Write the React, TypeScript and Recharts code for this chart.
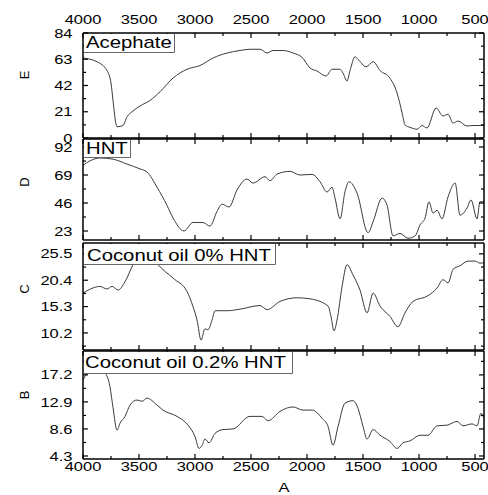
import React from 'react';
import { LineChart, Line, XAxis, YAxis } from 'recharts';

const W = 488;
const H = 495;
const LEFT = 83;
const RIGHT = 4;
const FONT = '"Liberation Sans", Arial, sans-serif';
const STRETCH = 1.27; // the source picture is stretched sideways
const LINE_COLOR = '#3a3a3a';

const xDomain = [420, 4000];
const xTicks = [4000, 3750, 3500, 3250, 3000, 2750, 2500, 2250, 2000, 1750, 1500, 1250, 1000, 750, 500];
const xLabels = [4000, 3500, 3000, 2500, 2000, 1500, 1000, 500];

// E - Acephate
const acephateX = [4000, 3875, 3786, 3750, 3732, 3705, 3696, 3643, 3607, 3562, 3491, 3402, 3312, 3196, 3071, 2955, 2839, 2714, 2598, 2509, 2420, 2357, 2304, 2214, 2125, 2045, 1973, 1911, 1830, 1777, 1705, 1679, 1643, 1616, 1571, 1545, 1473, 1410, 1348, 1259, 1196, 1151, 1125, 1080, 1018, 973, 929, 848, 786, 741, 696, 652, 571, 518, 420];
const acephateY = [64, 61, 54, 44, 30, 11, 9, 10, 17, 21, 25.6, 30, 37, 48, 55, 58, 64, 68, 70, 71, 71, 68, 70, 70, 68, 64.6, 56, 53.6, 49.6, 55, 55, 52, 45.6, 54, 65, 63, 57, 61, 54, 47.8, 36, 20, 10.4, 8.5, 7, 10, 8, 24, 17.6, 19, 12, 13.6, 9.6, 10, 10];

// D - HNT
const hntX = [4000, 3937, 3848, 3732, 3607, 3491, 3429, 3339, 3250, 3196, 3098, 3018, 2929, 2866, 2804, 2759, 2696, 2625, 2536, 2482, 2375, 2330, 2268, 2152, 2063, 1955, 1884, 1821, 1777, 1750, 1705, 1661, 1625, 1553, 1455, 1410, 1330, 1286, 1232, 1170, 1098, 1035, 991, 946, 911, 875, 839, 795, 741, 678, 634, 571, 536, 482, 456, 420];
const hntY = [77, 80.7, 83, 82, 78, 74, 71.5, 59, 44, 33.7, 23, 30, 30, 27, 39, 45, 42.7, 56.7, 65.7, 62.4, 67.6, 64.3, 69.8, 72, 69, 69.5, 63.5, 55, 59, 50, 33, 55.3, 63.5, 54, 21.6, 30.7, 50, 44.3, 19, 21, 17, 19, 28, 33.7, 47, 37.7, 40, 33, 51, 62.4, 36, 42, 48.5, 33, 47, 47];

// C - Coconut oil 0% HNT
const oil0X = [4000, 3911, 3848, 3786, 3741, 3687, 3625, 3554, 3450, 3330, 3196, 3071, 3018, 2982, 2946, 2911, 2884, 2848, 2821, 2714, 2598, 2420, 2357, 2241, 2089, 1973, 1812, 1786, 1759, 1732, 1687, 1643, 1589, 1527, 1464, 1410, 1348, 1259, 1188, 1125, 1054, 920, 839, 786, 741, 696, 634, 563, 500, 456, 420];
const oil0Y = [17.9, 18.9, 19.2, 18.7, 19.2, 18.5, 20.1, 23.4, 27, 23.4, 20.8, 18.2, 15.3, 12.7, 8.8, 11, 10.8, 12.7, 14.5, 14.5, 14.8, 15.5, 14.7, 16.3, 17, 16.8, 15.4, 13.4, 10.6, 12.7, 19.2, 23.4, 21.4, 18.5, 14.1, 17.9, 15.4, 13.4, 11.4, 14.1, 16.3, 17.4, 18.9, 20.5, 19.9, 22.5, 23.2, 24.1, 24.1, 23.7, 23.8];

// B - Coconut oil 0.2% HNT
const oil02X = [4000, 3964, 3900, 3804, 3759, 3732, 3696, 3670, 3625, 3580, 3518, 3473, 3429, 3339, 3286, 3161, 3062, 3000, 2964, 2937, 2911, 2875, 2821, 2750, 2661, 2509, 2402, 2348, 2241, 2125, 2036, 1955, 1866, 1812, 1768, 1723, 1661, 1589, 1545, 1500, 1464, 1410, 1348, 1259, 1196, 1143, 1080, 991, 920, 839, 750, 661, 607, 527, 482, 447, 420];
const oil02Y = [16.4, 17.5, 19, 17.6, 15.3, 12, 8.4, 9.5, 10.6, 12.4, 13.2, 13, 13.5, 12.4, 11.6, 10.6, 9.2, 7.4, 5.5, 6, 7, 6.4, 7.9, 8.5, 8.6, 10.6, 10.6, 9.9, 11.4, 12.1, 11.6, 11.6, 10.3, 9, 6, 9, 12.7, 13.1, 11.9, 9, 7, 8.5, 7.6, 6.6, 5.5, 6.4, 6.7, 7.6, 7.6, 9.1, 9.2, 9.8, 9.1, 9.4, 9.1, 11.1, 10.3];

const eTicks = [0, 10.5, 21, 31.5, 42, 52.5, 63, 73.5, 84];
const eLabels = [0, 21, 42, 63, 84];
const dTicks = [23, 34.5, 46, 57.5, 69, 80.5, 92];
const dLabels = [23, 46, 69, 92];
const cTicks = [7.65, 10.2, 12.75, 15.3, 17.85, 20.4, 22.95, 25.5];
const cLabels = [10.2, 15.3, 20.4, 25.5];
const bTicks = [4.3, 6.45, 8.6, 10.75, 12.9, 15.05, 17.2, 19.35];
const bLabels = [4.3, 8.6, 12.9, 17.2];

const zip = (xs: number[], ys: number[]) => xs.map((x, i) => ({ x, y: ys[i] }));

const tickText = (x: number, y: number, anchor: string, value: number | string) => (
  <text
    transform={`translate(${x},${y}) scale(${STRETCH},1)`}
    textAnchor={anchor}
    fontFamily={FONT}
    fontSize={13}
    fill="#000"
  >
    {value}
  </text>
);

const XTick = (props: any) => {
  const { x, y, payload, side, showLabels } = props;
  const v = payload.value;
  const major = xLabels.includes(v);
  const len = major ? 5 : 3;
  const dir = side === 'top' ? 1 : -1;
  return (
    <g>
      <line x1={x} x2={x} y1={y} y2={y + dir * len} stroke="#000" strokeWidth={1.2} />
      {showLabels && major && tickText(x, side === 'top' ? y - 9 : y + 11.7, 'middle', v)}
    </g>
  );
};

const YTick = (props: any) => {
  const { x, y, payload, side, labels } = props;
  const v = payload.value;
  const major = labels.includes(v);
  const len = major ? 5 : 3;
  const dir = side === 'left' ? 1 : -1;
  return (
    <g>
      <line x1={x} x2={x + dir * len} y1={y} y2={y} stroke="#000" strokeWidth={1.2} />
      {side === 'left' && major && tickText(x - 10.5, y + 4.6, 'end', v)}
    </g>
  );
};

type PanelProps = {
  data: { x: number; y: number }[];
  top: number;
  bottom: number;
  yDomain: number[];
  yTicks: number[];
  yLabels: number[];
  topLabels?: boolean;
  bottomLabels?: boolean;
};

const axisLine = { stroke: '#000', strokeWidth: 1.5 };

const Panel = ({ data, top, bottom, yDomain, yTicks, yLabels, topLabels, bottomLabels }: PanelProps) => (
  <div style={{ position: 'absolute', left: 0, top: 0 }}>
    <LineChart
      width={W}
      height={H}
      data={data}
      margin={{ top: top - 1, bottom: H - bottom - 1, left: LEFT - 1, right: RIGHT - 1 }}
    >
      <XAxis
        xAxisId="bottom"
        dataKey="x"
        type="number"
        domain={xDomain}
        reversed
        allowDataOverflow
        ticks={xTicks}
        interval={0}
        height={1}
        tickSize={0}
        tickMargin={0}
        tickLine={false}
        axisLine={axisLine}
        tick={(p: any) => <XTick {...p} side="bottom" showLabels={bottomLabels} />}
      />
      <XAxis
        xAxisId="top"
        orientation="top"
        dataKey="x"
        type="number"
        domain={xDomain}
        reversed
        allowDataOverflow
        ticks={xTicks}
        interval={0}
        height={1}
        tickSize={0}
        tickMargin={0}
        tickLine={false}
        axisLine={axisLine}
        tick={(p: any) => <XTick {...p} side="top" showLabels={topLabels} />}
      />
      <YAxis
        yAxisId="left"
        type="number"
        domain={yDomain}
        allowDataOverflow
        ticks={yTicks}
        interval={0}
        width={1}
        tickSize={0}
        tickMargin={0}
        tickLine={false}
        axisLine={axisLine}
        tick={(p: any) => <YTick {...p} side="left" labels={yLabels} />}
      />
      <YAxis
        yAxisId="right"
        orientation="right"
        type="number"
        domain={yDomain}
        allowDataOverflow
        ticks={yTicks}
        interval={0}
        width={1}
        tickSize={0}
        tickMargin={0}
        tickLine={false}
        axisLine={axisLine}
        tick={(p: any) => <YTick {...p} side="right" labels={yLabels} />}
      />
      <Line
        xAxisId="bottom"
        yAxisId="left"
        type="monotone"
        dataKey="y"
        stroke={LINE_COLOR}
        strokeWidth={1}
        dot={false}
        isAnimationActive={false}
      />
    </LineChart>
  </div>
);

const boxText = (x: number, y: number, label: string) => (
  <text transform={`translate(${x},${y}) scale(${STRETCH},1)`} fontFamily={FONT} fontSize={16} fill="#000">
    {label}
  </text>
);

const LabelBox = ({ x1, y1, x2, y2, tx, ty, label }: any) => (
  <g>
    <rect x={x1} y={y1} width={x2 - x1} height={y2 - y1} fill="#fff" />
    <polyline points={`${x2},${y1} ${x2},${y2} ${x1},${y2}`} fill="none" stroke="#666" strokeWidth={1} />
    {boxText(tx, ty, label)}
  </g>
);

const sideLabel = (x: number, y: number, label: string) => (
  <text transform={`translate(${x},${y}) rotate(-90)`} textAnchor="middle" fontFamily={FONT} fontSize={13} fill="#000">
    {label}
  </text>
);

export default function App() {
  return (
    <div style={{ position: 'absolute', left: 0, top: 0, width: W, height: H, background: '#fff' }}>
      <Panel data={zip(acephateX, acephateY)} top={33} bottom={138} yDomain={[0, 84]} yTicks={eTicks} yLabels={eLabels} topLabels />
      <Panel data={zip(hntX, hntY)} top={139} bottom={240} yDomain={[15.6, 98.6]} yTicks={dTicks} yLabels={dLabels} />
      <Panel data={zip(oil0X, oil0Y)} top={243} bottom={350} yDomain={[6.9, 27.6]} yTicks={cTicks} yLabels={cLabels} />
      <Panel data={zip(oil02X, oil02Y)} top={351} bottom={459} yDomain={[3.82, 21.0]} yTicks={bTicks} yLabels={bLabels} bottomLabels />
      <svg width={W} height={H} style={{ position: 'absolute', left: 0, top: 0, pointerEvents: 'none' }}>
        <LabelBox x1={84} y1={34} x2={174.5} y2={52.5} tx={86} ty={48} label="Acephate" />
        <LabelBox x1={84} y1={140} x2={130.5} y2={157.5} tx={86} ty={154} label="HNT" />
        <LabelBox x1={84} y1={244} x2={275.5} y2={264.5} tx={87} ty={260.7} label="Coconut oil 0% HNT" />
        <LabelBox x1={84} y1={352} x2={292.5} y2={373.5} tx={85} ty={368.3} label="Coconut oil 0.2% HNT" />
        {sideLabel(28.5, 75, 'E')}
        {sideLabel(28.5, 182, 'D')}
        {sideLabel(28.5, 289, 'C')}
        {sideLabel(28.5, 395, 'B')}
        <text transform={`translate(284,492) scale(${STRETCH},1)`} textAnchor="middle" fontFamily={FONT} fontSize={13} fill="#000">
          A
        </text>
      </svg>
    </div>
  );
}
